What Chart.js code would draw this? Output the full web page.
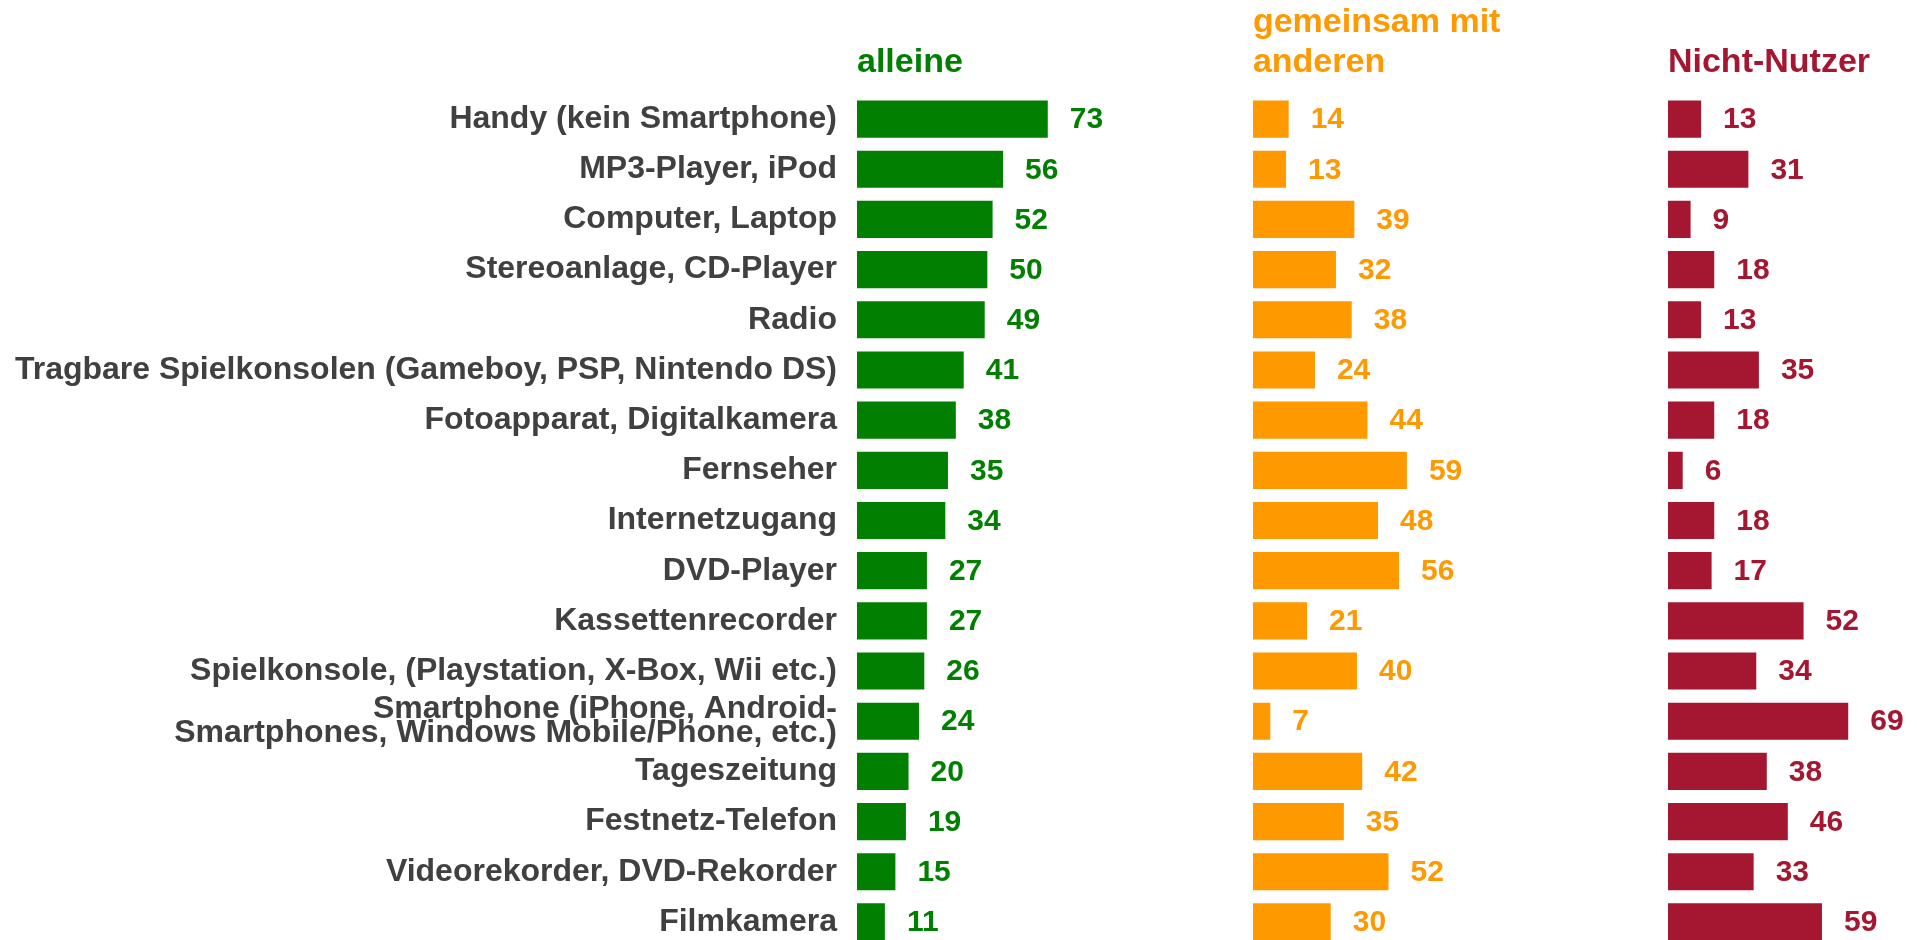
<!DOCTYPE html>
<html>
<head>
<meta charset="utf-8">
<script src="https://cdn.jsdelivr.net/npm/chart.js@4.4.0/dist/chart.umd.min.js"></script>
<style>
	html, body { margin: 0; padding: 0; overflow: hidden; background: #fff; }
	#wrap { position: relative; width: 1917px; height: 950px; }
</style>
</head>
<body>
<div id="wrap"><canvas id="geraete-chart"></canvas></div>
<script>
// Geräte
var geraete = [
	"Handy (kein Smartphone)",
	"MP3-Player, iPod",
	"Computer, Laptop",
	"Stereoanlage, CD-Player",
	"Radio",
	"Tragbare Spielkonsolen (Gameboy, PSP, Nintendo DS)",
	"Fotoapparat, Digitalkamera",
	"Fernseher",
	"Internetzugang",
	"DVD-Player",
	"Kassettenrecorder",
	"Spielkonsole, (Playstation, X-Box, Wii etc.)",
	["Smartphone (iPhone, Android-", "Smartphones, Windows Mobile/Phone, etc.)"],
	"Tageszeitung",
	"Festnetz-Telefon",
	"Videorekorder, DVD-Rekorder",
	"Filmkamera"
];

// Serien
var alleine     = [73, 56, 52, 50, 49, 41, 38, 35, 34, 27, 27, 26, 24, 20, 19, 15, 11];
var gemeinsam   = [14, 13, 39, 32, 38, 24, 44, 59, 48, 56, 21, 40, 7, 42, 35, 52, 30];
var nichtNutzer = [13, 31, 9, 18, 13, 35, 18, 6, 18, 17, 52, 34, 69, 38, 46, 33, 59];

// Spaltenköpfe
var titel_alleine   = ["", "alleine"];
var titel_gemeinsam = ["gemeinsam mit", "anderen"];
var titel_nicht     = ["", "Nicht-Nutzer"];

var schrift = '"Liberation Sans", Arial, sans-serif';

// eine Achse pro Spalte, nebeneinander gestapelt
var achse = function(max, titel, farbe, gewicht){
	return {
		type: 'linear',
		position: 'top',
		stack: 'spalten',
		stackWeight: max,
		weight: gewicht,
		min: 0,
		max: max,
		grid: { display: false, drawTicks: false },
		border: { display: false },
		ticks: { display: false },
		title: {
			display: true,
			text: titel,
			align: 'start',
			color: farbe,
			padding: { top: 3, bottom: 11 },
			font: { family: schrift, size: 34, weight: 'bold', lineHeight: '40px' }
		}
	};
};

// Zahlen hinter den Balken
var werteLabels = {
	id: 'werteLabels',
	afterDatasetsDraw: function(chart){
		var ctx = chart.ctx;
		ctx.save();
		ctx.font = 'bold 30px ' + schrift;
		ctx.textBaseline = 'middle';
		ctx.textAlign = 'left';
		chart.data.datasets.forEach(function(ds, i){
			ctx.fillStyle = ds.backgroundColor;
			chart.getDatasetMeta(i).data.forEach(function(bar, j){
				ctx.fillText(ds.data[j], bar.x + 21, bar.y + 1);
			});
		});
		ctx.restore();
	}
};

var ctx = document.getElementById('geraete-chart').getContext('2d');
var myChart = new Chart(ctx, {
	type: 'bar',
	data: {
		labels: geraete,
		datasets: [{
			label: 'alleine',
			backgroundColor: '#007F00',
			borderColor: 'rgba(255,255,255,0.35)',
			borderWidth: 1,
			xAxisID: 'xAlleine',
			data: alleine
		},{
			label: 'gemeinsam mit anderen',
			backgroundColor: '#FF9900',
			borderColor: 'rgba(255,255,255,0.35)',
			borderWidth: 1,
			xAxisID: 'xGemeinsam',
			data: gemeinsam
		},{
			label: 'Nicht-Nutzer',
			backgroundColor: '#A51731',
			borderColor: 'rgba(255,255,255,0.35)',
			borderWidth: 1,
			xAxisID: 'xNicht',
			data: nichtNutzer
		}]
	},
	options: {
		indexAxis: 'y',
		responsive: true,
		maintainAspectRatio: false,
		animation: false,
		layout: { padding: { top: 0, left: 0, right: 0, bottom: 3 } },
		datasets: {
			bar: { grouped: false, categoryPercentage: 1, barPercentage: 0.78 }
		},
		plugins: {
			legend: { display: false },
			tooltip: { enabled: false }
		},
		scales: {
			y: {
				type: 'category',
				position: 'left',
				grid: { display: false, drawTicks: false },
				border: { display: false },
				ticks: {
					autoSkip: false,
					padding: 20,
					color: '#404040',
					font: { family: schrift, size: 32, weight: 'bold', lineHeight: '24px' }
				},
				afterFit: function(scale){
					scale.width = 857;
					// kein Extra-Rand oben/unten
					scale.paddingTop = 0;
					scale.paddingBottom = 0;
				}
			},
			xAlleine: achse(150.7, titel_alleine, '#007F00', 3),
			xGemeinsam: achse(158.0, titel_gemeinsam, '#FF9900', 2),
			xNicht: achse(94.8, titel_nicht, '#A51731', 1)
		}
	},
	plugins: [werteLabels]
});
</script>
</body>
</html>
